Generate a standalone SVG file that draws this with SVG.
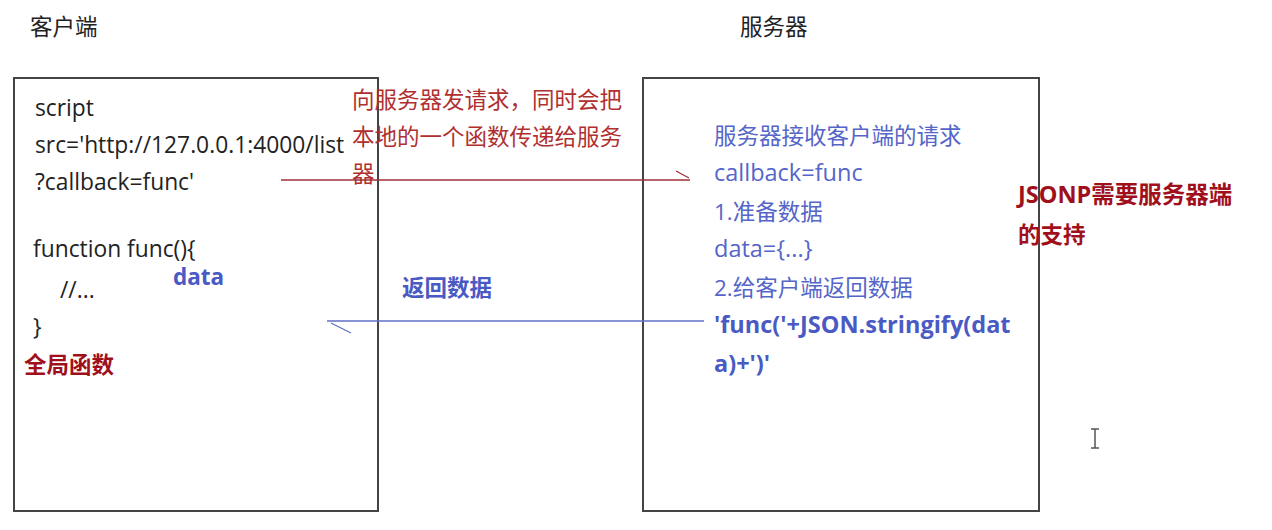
<svg xmlns="http://www.w3.org/2000/svg" width="1272" height="530" viewBox="0 0 1272 530">
<style>
text{font-family:"Open Sans","Noto Sans CJK SC",sans-serif;font-size:22.5px}
.l{font-size:23.5px}
.m{font-size:22.8px}
.k{fill:#222}
.r{fill:#b03030}
.dr{fill:#a0101c;font-weight:bold}
.b{fill:#5565c8}
.bb{fill:#4a5ac4;font-weight:bold}
.box{fill:none;stroke:#444;stroke-width:2}
</style>
<rect width="1272" height="530" fill="#fff"/>
<text class="k" x="30" y="35">客户端</text>
<text class="k" x="740" y="35">服务器</text>
<g id="client">
<rect class="box" x="14" y="78" width="364" height="433"/>
<text class="k m" x="35" y="116">script</text>
<text class="k m" x="35" y="153">src='http://127.0.0.1:4000/list</text>
<text class="k m" x="35" y="190">?callback=func'</text>
<text class="k m" x="33" y="257">function func(){</text>
<text class="k m" x="60" y="298">//...</text>
<text class="k m" x="33" y="335">}</text>
<text class="bb" x="173" y="285">data</text>
<text class="dr" x="24" y="373">全局函数</text>
</g>
<g id="server">
<rect class="box" x="643" y="78" width="396" height="433"/>
<text class="b" x="714" y="144">服务器接收客户端的请求</text>
<text class="b l" x="714" y="181">callback=func</text>
<text class="b" x="714" y="220">1.准备数据</text>
<text class="b l" x="714" y="257">data={...}</text>
<text class="b" x="714" y="296">2.给客户端返回数据</text>
<text class="bb l" x="714" y="333">'func('+JSON.stringify(dat</text>
<text class="bb l" x="714" y="372">a)+')'</text>
</g>
<g id="notes">
<text class="r" x="352" y="108">向服务器发请求，同时会把</text>
<text class="r" x="352" y="145">本地的一个函数传递给服务</text>
<text class="r" x="352" y="182">器</text>
<text class="bb" x="402" y="296">返回数据</text>
<text class="dr l" x="1018" y="203">JSONP需要服务器端</text>
<text class="dr" x="1018" y="243">的支持</text>
</g>
<g id="connectors">
<path d="M281 180H690M676 171L689 178" stroke="#a03038" stroke-width="1.3" fill="none"/>
<path d="M327 321H704M331 323L351 333" stroke="#6070c8" stroke-width="1.3" fill="none"/>
</g>
<path d="M1095 429V448M1091 429H1099M1091 448H1099" stroke="#555" stroke-width="1.5" fill="none"/>
</svg>
